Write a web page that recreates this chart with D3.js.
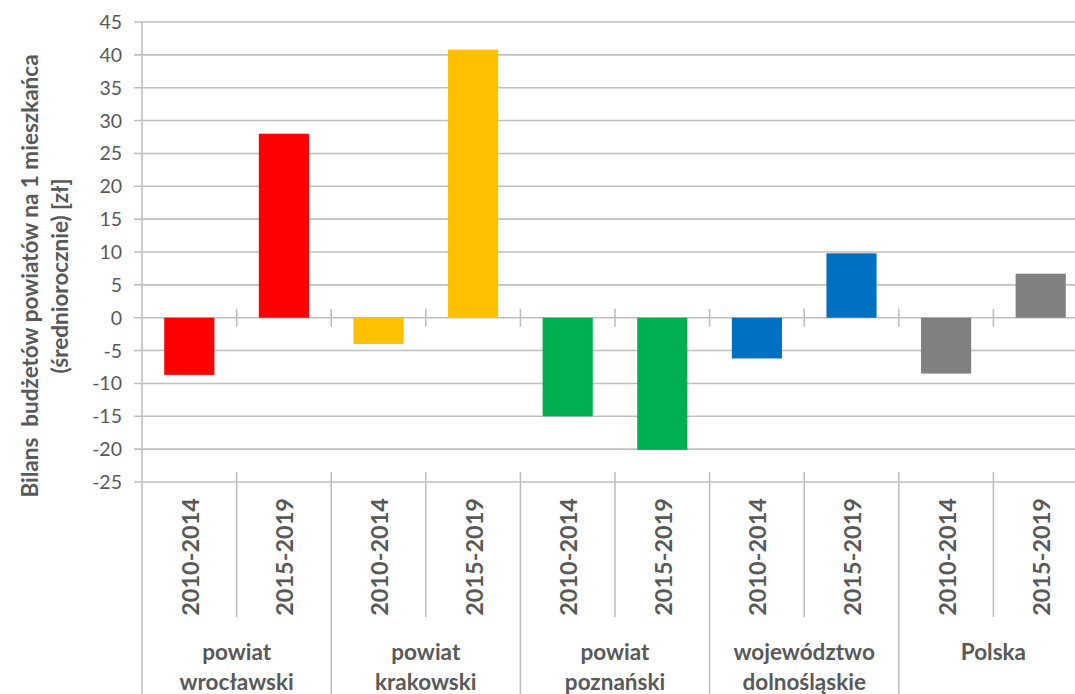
<!DOCTYPE html>
<html>
<head>
<meta charset="utf-8">
<script src="https://cdn.jsdelivr.net/npm/d3@7"></script>
<style>
  html, body { margin: 0; padding: 0; background: #fff; overflow: hidden; }
  svg { display: block; }
</style>
</head>
<body>
<svg id="chart" width="1075" height="694"></svg>
<script>
// ---- data ----
const groupLabels = [["powiat", "wrocławski"], ["powiat", "krakowski"], ["powiat", "poznański"], ["województwo", "dolnośląskie"], ["Polska"]];
const periods = ["2010-2014", "2015-2019"];
const values2010 = [-8.7, -4.0, -15.0, -6.2, -8.5];
const values2015 = [28.0, 40.8, -20.1, 9.8, 6.7];
const groupColors = ["#FF0000", "#FFC000", "#00B050", "#0070C0", "#808080"];
const yTickValues = [-25, -20, -15, -10, -5, 0, 5, 10, 15, 20, 25, 30, 35, 40, 45];
const yTitleLines = ["Bilans  budżetów powiatów na 1 mieszkańca", "(średniorocznie) [zł]"];

// ---- build rows ----
const rows = [];
groupLabels.forEach((g, i) => {
  rows.push({ key: i + "_0", group: i, period: periods[0], value: values2010[i] });
  rows.push({ key: i + "_1", group: i, period: periods[1], value: values2015[i] });
});

const svg = d3.select("#chart");
const gridColor = "#BFBFBF";
const textColor = "#595959";
const font = "Lato, 'Open Sans', sans-serif";

const x = d3.scaleBand()
  .domain(rows.map(d => d.key))
  .range([142, 1088])
  .paddingInner(0.47)
  .paddingOuter(0.235);

const y = d3.scaleLinear().domain([-25, 45]).range([482, 22]);

const left = x.range()[0];
const step = x.step();

// gridlines
svg.append("g").selectAll("line").data(yTickValues).join("line")
  .attr("x1", 134).attr("x2", 1075)
  .attr("y1", d => y(d)).attr("y2", d => y(d))
  .attr("stroke", gridColor).attr("stroke-width", 1.6);

// y axis line (extends through label table)
svg.append("line")
  .attr("x1", left).attr("x2", left)
  .attr("y1", y(45)).attr("y2", 694)
  .attr("stroke", gridColor).attr("stroke-width", 1.6);

// bars
svg.append("g").selectAll("rect").data(rows).join("rect")
  .attr("x", d => x(d.key))
  .attr("width", x.bandwidth())
  .attr("y", d => y(Math.max(0, d.value)))
  .attr("height", d => Math.abs(y(d.value) - y(0)))
  .attr("fill", d => groupColors[d.group]);

// tick marks crossing the zero line at category boundaries
const boundaries = d3.range(1, rows.length + 1).map(i => left + i * step);
svg.append("g").selectAll("line").data(boundaries).join("line")
  .attr("x1", d => d).attr("x2", d => d)
  .attr("y1", y(0) - 9).attr("y2", y(0) + 9)
  .attr("stroke", gridColor).attr("stroke-width", 1.6);

// label table lines
svg.append("g").selectAll("line").data(boundaries).join("line")
  .attr("x1", d => d).attr("x2", d => d)
  .attr("y1", y(-25) - 10)
  .attr("y2", (d, i) => (i % 2 === 0) ? 617 : 694)
  .attr("stroke", gridColor).attr("stroke-width", 1.6);

// y tick labels
svg.append("g").selectAll("text").data(yTickValues).join("text")
  .attr("x", 122).attr("y", d => y(d))
  .attr("dy", "0.36em")
  .attr("text-anchor", "end")
  .attr("font-family", font).attr("font-size", 19.5)
  .attr("fill", textColor)
  .text(d => d);

// period labels (rotated)
svg.append("g").selectAll("text").data(rows).join("text")
  .attr("transform", d => `translate(${x(d.key) + x.bandwidth() / 2 + 1},498) rotate(-90)`)
  .attr("dy", "0.36em")
  .attr("text-anchor", "end")
  .attr("font-family", font).attr("font-weight", "bold").attr("font-size", 23.5)
  .attr("fill", textColor)
  .text(d => d.period);

// group labels
const gl = svg.append("g").selectAll("text").data(groupLabels).join("text")
  .attr("x", (d, i) => left + (2 * i + 1) * step)
  .attr("y", 660)
  .attr("text-anchor", "middle")
  .attr("font-family", font).attr("font-weight", "bold").attr("font-size", 22.5)
  .attr("fill", textColor);
gl.selectAll("tspan").data(d => d).join("tspan")
  .attr("x", function () { return d3.select(this.parentNode).attr("x"); })
  .attr("dy", (d, i) => i === 0 ? 0 : 30)
  .text(d => d);

// y axis title
const titleCenter = 276;
svg.append("g").selectAll("text").data(yTitleLines).join("text")
  .attr("transform", (d, i) => `translate(${i === 0 ? 38 : 68},${titleCenter}) rotate(-90)`)
  .attr("text-anchor", "middle")
  .attr("font-family", font).attr("font-weight", "bold").attr("font-size", 22.5)
  .attr("fill", textColor)
  .attr("xml:space", "preserve")
  .style("white-space", "pre")
  .text(d => d);
</script>
</body>
</html>
